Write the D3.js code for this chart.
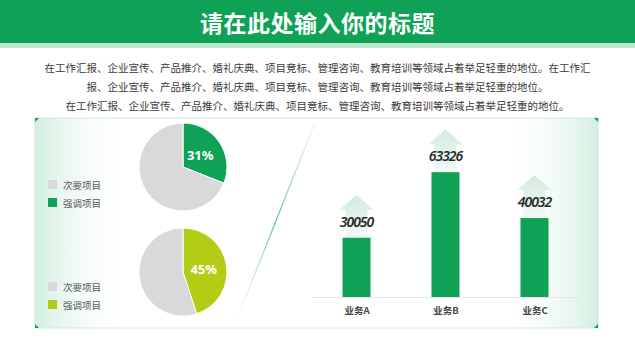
<!DOCTYPE html>
<html>
<head>
<meta charset="utf-8">
<script src="https://cdn.jsdelivr.net/npm/d3@7"></script>
<style>
  body { margin: 0; background: #fff; }
  svg { display: block; font-family: "Noto Sans CJK SC", "Noto Sans", sans-serif; }
</style>
</head>
<body>
<div id="chart"></div>
<script>
//----------DATA----------
var titleText = '请在此处输入你的标题';
var introLines = [
    '在工作汇报、企业宣传、产品推介、婚礼庆典、项目竞标、管理咨询、教育培训等领域占着举足轻重的地位。在工作汇',
    '报、企业宣传、产品推介、婚礼庆典、项目竞标、管理咨询、教育培训等领域占着举足轻重的地位。',
    '在工作汇报、企业宣传、产品推介、婚礼庆典、项目竞标、管理咨询、教育培训等领域占着举足轻重的地位。'
];
var pieLabels = ['强调项目', '次要项目'];
var pieTop = [31, 69];
var pieBottom = [45, 55];
var barCategories = ['业务A', '业务B', '业务C'];
var barValues = [30050, 63326, 40032];

//----------SVG----------
var svgWidth = 635;
var svgHeight = 358;
var green = '#0fa256';

var svg = d3.select('#chart')
    .append('svg')
    .attr('width', svgWidth)
    .attr('height', svgHeight);

var defs = svg.append('defs');

// left / right panel glow
var gl = defs.append('linearGradient').attr('id', 'glowL');
gl.append('stop').attr('offset', '0%').attr('stop-color', '#d3eee0');
gl.append('stop').attr('offset', '100%').attr('stop-color', '#ffffff').attr('stop-opacity', 0);
var gr = defs.append('linearGradient').attr('id', 'glowR');
gr.append('stop').attr('offset', '0%').attr('stop-color', '#ffffff').attr('stop-opacity', 0);
gr.append('stop').attr('offset', '100%').attr('stop-color', '#d3eee0');

// arrow fill
var ga = defs.append('linearGradient').attr('id', 'arrowFill')
    .attr('x1', 0).attr('y1', 0).attr('x2', 0).attr('y2', 1);
ga.append('stop').attr('offset', '0%').attr('stop-color', '#d2ebde');
ga.append('stop').attr('offset', '100%').attr('stop-color', '#f3faf6');

// diagonal line fade
var gd = defs.append('linearGradient').attr('id', 'diag')
    .attr('gradientUnits', 'userSpaceOnUse')
    .attr('x1', 314).attr('y1', 125).attr('x2', 239).attr('y2', 314);
gd.append('stop').attr('offset', '0%').attr('stop-color', '#9fd9bb').attr('stop-opacity', 0.2);
gd.append('stop').attr('offset', '50%').attr('stop-color', '#5cbf8c');
gd.append('stop').attr('offset', '100%').attr('stop-color', '#9fd9bb').attr('stop-opacity', 0.1);

//----------HEADER----------
svg.append('rect').attr('x', 0).attr('y', 0).attr('width', svgWidth).attr('height', 43).attr('fill', green);
svg.append('rect').attr('x', 0).attr('y', 43).attr('width', svgWidth).attr('height', 5).attr('fill', '#bfe6d0');
svg.append('text')
    .attr('x', svgWidth / 2).attr('y', 32)
    .attr('text-anchor', 'middle')
    .attr('fill', '#fff')
    .attr('font-size', 23)
    .attr('font-weight', 'bold')
    .attr('letter-spacing', 0.5)
    .text(titleText);

svg.selectAll('.intro')
    .data(introLines)
    .enter()
    .append('text')
    .attr('class', 'intro')
    .attr('x', svgWidth / 2)
    .attr('y', (d, i) => 72 + i * 19)
    .attr('text-anchor', 'middle')
    .attr('fill', '#3a3a3a')
    .attr('font-size', 10.5)
    .text(d => d);

//----------PANEL----------
var panel = {x: 35, y: 118, w: 563, h: 210};
svg.append('rect').attr('x', panel.x).attr('y', panel.y).attr('width', 95).attr('height', panel.h).attr('fill', 'url(#glowL)');
svg.append('rect').attr('x', panel.x + panel.w - 95).attr('y', panel.y).attr('width', 95).attr('height', panel.h).attr('fill', 'url(#glowR)');
svg.append('rect')
    .attr('x', panel.x).attr('y', panel.y).attr('width', panel.w).attr('height', panel.h)
    .attr('fill', 'none').attr('stroke', '#cdeadb').attr('stroke-width', 1);

// little corner triangles
var cs = 4;
var corners = [
    [[panel.x, panel.y], [panel.x + cs, panel.y], [panel.x, panel.y + cs]],
    [[panel.x, panel.y + panel.h], [panel.x + cs, panel.y + panel.h], [panel.x, panel.y + panel.h - cs]],
    [[panel.x + panel.w, panel.y], [panel.x + panel.w - cs, panel.y], [panel.x + panel.w, panel.y + cs]],
    [[panel.x + panel.w, panel.y + panel.h], [panel.x + panel.w - cs, panel.y + panel.h], [panel.x + panel.w, panel.y + panel.h - cs]]
];
svg.selectAll('.corner').data(corners).enter().append('path')
    .attr('d', d => d3.line()(d) + 'Z')
    .attr('fill', green);

svg.append('line')
    .attr('x1', 314).attr('y1', 125).attr('x2', 239).attr('y2', 314)
    .attr('stroke', 'url(#diag)').attr('stroke-width', 1.2);

//----------PIES----------
var pie = d3.pie().sort(null);
var arc = d3.arc().innerRadius(0).outerRadius(44);
var labelArc = d3.arc().innerRadius(22).outerRadius(22);

function drawPie(values, cy, legendY, hi) {
    var g = svg.append('g').attr('transform', `translate(183, ${cy})`);
    var colors = [hi, '#d9d9d9'];
    var arcs = pie(values);
    g.selectAll('path')
        .data(arcs)
        .enter()
        .append('path')
        .attr('d', arc)
        .attr('fill', (d, i) => colors[i])
        .attr('stroke', '#fff')
        .attr('stroke-width', 1);
    var c = labelArc.centroid(arcs[0]);
    g.append('text')
        .attr('x', c[0] - 1).attr('y', c[1] + 5)
        .attr('text-anchor', 'middle')
        .attr('fill', '#fff')
        .attr('font-family', 'Noto Sans, sans-serif')
        .attr('font-size', 13)
        .attr('font-weight', 'bold')
        .text(values[0] + '%');

    // legend: 次要项目 first, then 强调项目
    var legend = [{label: pieLabels[1], color: colors[1]}, {label: pieLabels[0], color: colors[0]}];
    var lg = svg.append('g').attr('transform', `translate(48, ${legendY})`);
    var item = lg.selectAll('g').data(legend).enter().append('g')
        .attr('transform', (d, i) => `translate(0, ${i * 18})`);
    item.append('rect').attr('width', 9).attr('height', 9).attr('fill', d => d.color);
    item.append('text')
        .attr('x', 15).attr('y', 8.5)
        .attr('font-size', 9.5)
        .attr('fill', '#555')
        .text(d => d.label);
}
drawPie(pieTop, 167, 180, green);
drawPie(pieBottom, 272, 282, '#b3cc15');

//----------BARS----------
var xScale = d3.scalePoint()
    .domain(barCategories)
    .range([312, 579])
    .padding(0.5);
var yScale = d3.scaleLinear()
    .domain([0, 70000])
    .range([297, 159]);
var barW = 28;

svg.append('line')
    .attr('x1', 312).attr('x2', 577)
    .attr('y1', yScale(0) + 0.5).attr('y2', yScale(0) + 0.5)
    .attr('stroke', '#e3e8e5');

// arrows behind the value labels
svg.selectAll('.arrow')
    .data(barValues)
    .enter()
    .append('path')
    .attr('class', 'arrow')
    .attr('d', function(d, i) {
        var cx = xScale(barCategories[i]);
        var top = yScale(d);
        var tip = top - 43, neck = top - 28;
        return d3.line()([
            [cx, tip], [cx + 17, neck], [cx + 11, neck], [cx + 11, top],
            [cx - 11, top], [cx - 11, neck], [cx - 17, neck]
        ]) + 'Z';
    })
    .attr('fill', 'url(#arrowFill)');

svg.selectAll('.bar')
    .data(barValues)
    .enter()
    .append('rect')
    .attr('class', 'bar')
    .attr('x', (d, i) => xScale(barCategories[i]) - barW / 2)
    .attr('y', d => yScale(d))
    .attr('width', barW)
    .attr('height', d => yScale(0) - yScale(d))
    .attr('fill', green);

svg.selectAll('.val')
    .data(barValues)
    .enter()
    .append('text')
    .attr('class', 'val')
    .attr('x', (d, i) => xScale(barCategories[i]))
    .attr('y', d => yScale(d) - 11)
    .attr('text-anchor', 'middle')
    .attr('font-family', 'Noto Sans, sans-serif')
    .attr('font-style', 'italic')
    .attr('font-weight', 600)
    .attr('font-size', 14)
    .attr('letter-spacing', -1)
    .attr('fill', '#2a2a2a')
    .text(d => d);

var xAxis = d3.axisBottom(xScale).tickSize(0).tickPadding(10);
var axisG = svg.append('g')
    .attr('transform', `translate(0, ${yScale(0)})`)
    .call(xAxis);
axisG.select('.domain').remove();
axisG.selectAll('text')
    .attr('font-family', 'Noto Sans CJK SC, sans-serif')
    .attr('font-size', 9.5)
    .attr('font-weight', 'bold')
    .attr('fill', '#444');
</script>
</body>
</html>
